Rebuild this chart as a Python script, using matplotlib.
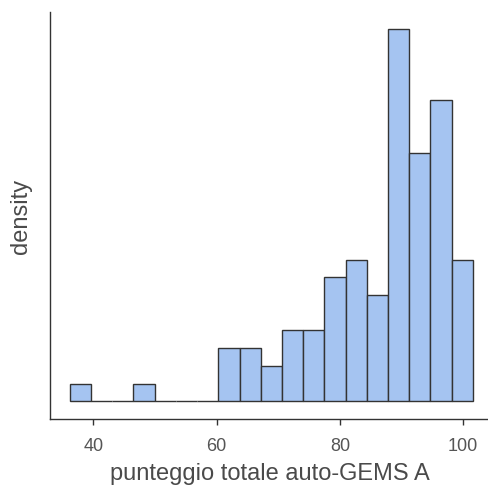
import numpy as np
import matplotlib
matplotlib.use('Agg')
import matplotlib.pyplot as plt

# Istogramma: punteggio totale auto-GEMS A
bin_start = 36.2
bin_width = 3.44
conteggi = [1, 0, 0, 1, 0, 0, 0, 3, 3, 2, 4, 4, 7, 8, 6, 21, 14, 17, 8]
x_ticks = [40, 60, 80, 100]

plt.rcParams['font.family'] = ['Liberation Sans', 'DejaVu Sans']

fig = plt.figure(figsize=(4.89, 4.89), dpi=100)
ax = fig.add_axes([0.1022, 0.1411, 0.8978, 0.833])

bordi = bin_start + bin_width * np.arange(len(conteggi))
ax.bar(bordi, conteggi, width=bin_width, align='edge',
       color='#a5c4f1', edgecolor='#333333', linewidth=1.0)

ax.set_xlim(32.97, 104.2)
ax.set_ylim(-1, 22)
ax.set_xticks(x_ticks)
ax.set_yticks([])

for s in ['top', 'right']:
    ax.spines[s].set_visible(False)
for s in ['left', 'bottom']:
    ax.spines[s].set_color('#333333')
    ax.spines[s].set_linewidth(1.0)

ax.tick_params(axis='x', length=4, width=1, color='#333333',
               labelsize=13, labelcolor='#555555', pad=9)
ax.set_xlabel('punteggio totale auto-GEMS A', fontsize=17, color='#4a4a4a', labelpad=6)
ax.set_ylabel('density', fontsize=17, color='#4a4a4a', labelpad=13)

plt.savefig('out.png', dpi=100)
